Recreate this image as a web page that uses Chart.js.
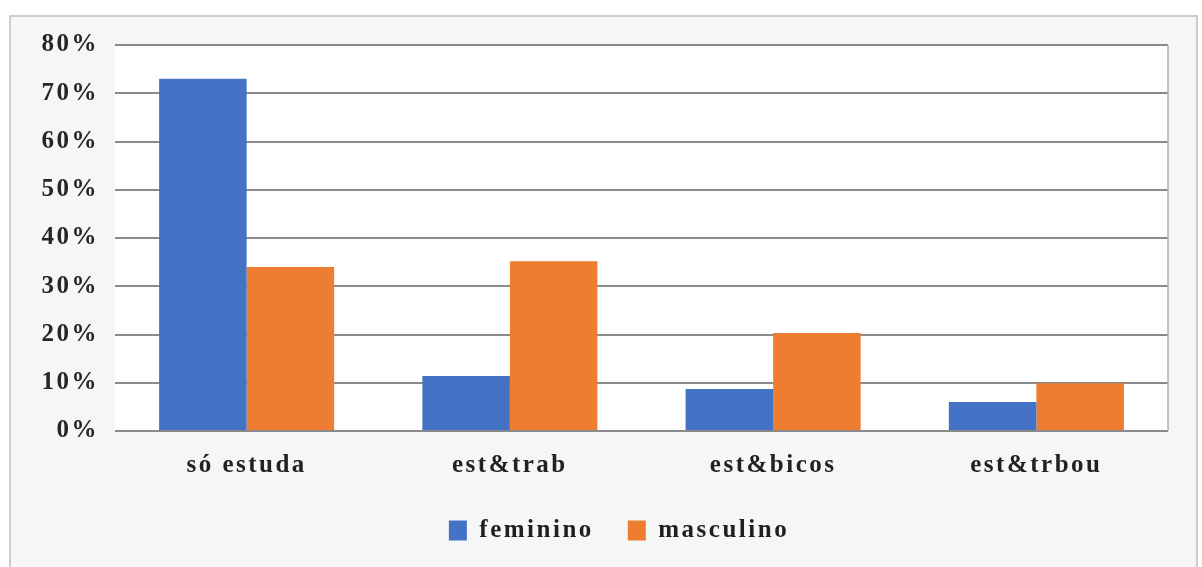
<!DOCTYPE html>
<html>
<head>
<meta charset="utf-8">
<script src="https://cdn.jsdelivr.net/npm/chart.js@4"></script>
<style>
  html, body { margin: 0; padding: 0; background: #fff; }
  #wrap { width: 1202px; height: 567px; }
</style>
</head>
<body>
<div id="wrap"><canvas id="myChart" width="1202" height="567"></canvas></div>
<script>
var categories = ['só estuda', 'est&trab', 'est&bicos', 'est&trbou'];
var feminino = [73, 11.4, 8.7, 6.0];
var masculino = [34, 35.2, 20.3, 9.9];
var yTicks = [0, 10, 20, 30, 40, 50, 60, 70, 80];

var serif = "'Liberation Serif', 'Times New Roman', serif";

// letter spacing gets reset when the canvas resizes, so set it again each pass
var spacingPlugin = {
    id: 'spacing',
    beforeLayout: function(chart) { chart.ctx.letterSpacing = '2.5px'; },
    beforeDraw: function(chart) {
        chart.ctx.letterSpacing = '2.5px';
        // legend sits a bit right of the canvas centre in the original
        if (chart.legend && !chart.legend._shifted) {
            chart.legend.left += 30;
            chart.legend.right += 30;
            chart.legend._shifted = true;
        }
    }
};

var framePlugin = {
    id: 'frame',
    beforeDraw: function(chart) {
        var c = chart.ctx, a = chart.chartArea;
        c.save();
        c.fillStyle = '#ffffff';
        c.fillRect(0, 0, chart.width, chart.height);
        c.fillStyle = '#f6f6f6';
        c.fillRect(10, 15, 1187, 552);
        c.strokeStyle = '#cdcdcd';
        c.lineWidth = 2;
        c.beginPath();
        c.moveTo(10, 568);
        c.lineTo(10, 16);
        c.lineTo(1197, 16);
        c.lineTo(1197, 568);
        c.stroke();
        c.fillStyle = '#ffffff';
        c.fillRect(a.left, a.top, a.right - a.left, a.bottom - a.top);
        c.restore();
    },
    afterDraw: function(chart) {
        var c = chart.ctx, a = chart.chartArea;
        c.save();
        c.strokeStyle = '#b0b0b0';
        c.lineWidth = 1.5;
        c.beginPath();
        c.moveTo(a.right, a.top);
        c.lineTo(a.right, a.bottom);
        c.stroke();
        c.restore();
    }
};

var ctx = document.getElementById('myChart').getContext('2d');
var myChart = new Chart(ctx, {
    type: 'bar',
    data: {
        labels: categories,
        datasets: [
            {
                label: 'feminino',
                data: feminino,
                backgroundColor: '#4472C4',
                categoryPercentage: 0.665,
                barPercentage: 1
            },
            {
                label: 'masculino',
                data: masculino,
                backgroundColor: '#ED7D31',
                categoryPercentage: 0.665,
                barPercentage: 1
            }
        ]
    },
    plugins: [spacingPlugin, framePlugin],
    options: {
        responsive: false,
        animation: false,
        layout: {
            padding: { left: 10, right: 34, top: 45, bottom: 14 }
        },
        plugins: {
            tooltip: { enabled: false },
            legend: {
                position: 'bottom',
                labels: {
                    boxWidth: 18,
                    boxHeight: 20,
                    padding: 34,
                    color: '#1f1f1f',
                    font: { family: serif, size: 25, weight: 'bold' }
                }
            }
        },
        scales: {
            x: {
                grid: { display: false },
                border: { display: false },
                ticks: {
                    color: '#222',
                    padding: 12,
                    font: { family: serif, size: 25, weight: 'bold' }
                },
                afterFit: function(scale) { scale.height = 53; }
            },
            y: {
                min: 0,
                max: 80,
                afterBuildTicks: function(scale) {
                    scale.ticks = yTicks.map(function(v) { return { value: v }; });
                },
                grid: { color: '#8a8a8a', lineWidth: 2, drawTicks: false },
                border: { display: false },
                ticks: {
                    color: '#262626',
                    padding: 16,
                    font: { family: serif, size: 25, weight: 'bold' },
                    callback: function(v) { return v + '%'; }
                },
                afterFit: function(scale) { scale.width = 105; }
            }
        }
    }
});
</script>
</body>
</html>
